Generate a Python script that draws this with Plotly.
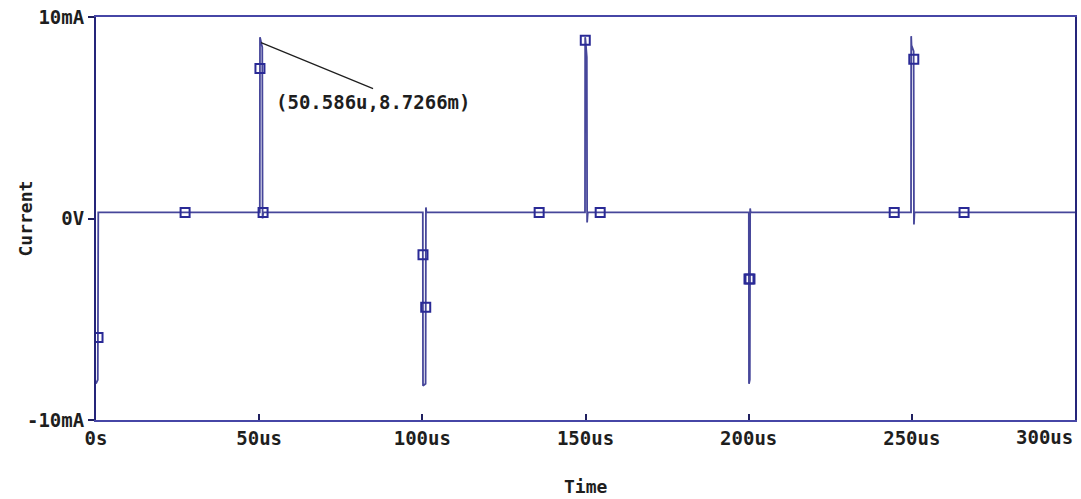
import plotly.graph_objects as go

# Transient current waveform (time in microseconds, current in milliamps)
time_us = [0.0, 0.3, 0.55, 0.7, 0.9,
           50.2, 50.25, 50.586, 50.95, 51.05, 51.25,
           100.15, 100.2, 101.0, 101.1, 101.25,
           149.85, 149.9, 150.0, 150.4, 150.5, 150.7,
           200.05, 200.1, 200.35, 200.45, 200.6,
           249.75, 249.8, 249.9, 250.55, 250.65, 250.8,
           300.0]
current_ma = [-8.2, -8.1, -8.0, 0.3, 0.3,
              0.3, 9.0, 8.7266, 8.5, 0.0, 0.3,
              0.3, -8.3, -8.2, 0.55, 0.3,
              0.3, 9.0, 8.85, 8.0, -0.2, 0.3,
              0.3, -8.2, -8.0, 0.5, 0.3,
              0.3, 9.05, 8.6, 8.3, -0.3, 0.3,
              0.3]

# Trace symbols placed along the waveform
marker_time_us = [0.62, 27.3, 50.24, 51.2, 100.2, 101.04, 135.8, 149.93, 154.5,
                  200.1, 200.4, 244.6, 250.6, 266.0]
marker_current_ma = [-5.9, 0.3, 7.45, 0.3, -1.8, -4.4, 0.3, 8.85, 0.3,
                     -3.0, -3.0, 0.3, 7.9, 0.3]

x_tick_vals = [0, 50, 100, 150, 200, 250, 300]
x_tick_text = ["0s", "50us", "100us", "150us", "200us", "250us", "300us"]
y_tick_vals = [-10, 0, 10]
y_tick_text = ["-10mA", "0V", "10mA"]

cursor_t, cursor_i = 50.586, 8.7266

trace_color = "#46469a"
frame_color = "#4646a6"
text_font = dict(family="DejaVu Sans Mono", size=19, color="#1e1e1e", weight="bold")
title_font = dict(family="DejaVu Sans Mono", size=18, color="#1e1e1e", weight="bold")

fig = go.Figure()
fig.add_trace(go.Scatter(
    x=time_us, y=current_ma, mode="lines",
    line=dict(color=trace_color, width=1.8),
    hoverinfo="skip", showlegend=False,
))
fig.add_trace(go.Scatter(
    x=marker_time_us, y=marker_current_ma, mode="markers",
    marker=dict(symbol="square-open", size=9, color="#2a2a96",
                line=dict(width=2, color="#2a2a96")),
    hoverinfo="skip", showlegend=False,
))

fig.add_annotation(
    x=cursor_t, y=cursor_i, xref="x", yref="y",
    text="(50.586u,8.7266m)",
    showarrow=True, arrowhead=0, arrowwidth=1.2, arrowcolor="#1e1e1e",
    ax=112, ay=46, xanchor="center", yanchor="top",
    font=text_font,
)

# The last x tick label sits flush against the right edge of the page
fig.add_annotation(
    x=x_tick_vals[-1], y=0, xref="x", yref="paper",
    text=x_tick_text[-1], showarrow=False,
    xanchor="right", yanchor="top", yshift=-4,
    font=text_font,
)
x_labels_shown = x_tick_text[:-1] + [""]

# Axis titles
fig.add_annotation(
    x=0, y=0.5, xref="paper", yref="paper", text="Current",
    textangle=-90, showarrow=False, xanchor="center", yanchor="middle",
    xshift=-71, font=title_font,
)
fig.add_annotation(
    x=0.5, y=0, xref="paper", yref="paper", text="Time",
    showarrow=False, xanchor="center", yanchor="middle",
    yshift=-66, font=title_font,
)

fig.update_layout(
    width=1081, height=499,
    margin=dict(l=96, r=6, t=17, b=79),
    paper_bgcolor="white", plot_bgcolor="white",
    font=text_font,
)
fig.update_xaxes(
    range=[0, 300], tickvals=x_tick_vals, ticktext=x_labels_shown,
    showgrid=False, zeroline=False, automargin=False,
    showline=True, mirror=True, linecolor=frame_color, linewidth=2,
    ticks="inside", ticklen=6, tickcolor="#202060", tickwidth=1.5,
    tickfont=text_font,
)
fig.update_yaxes(
    range=[-10, 10], tickvals=y_tick_vals, ticktext=y_tick_text,
    showgrid=False, zeroline=False, automargin=False,
    showline=True, mirror=True, linecolor="#25257a", linewidth=2,
    ticks="outside", ticklen=6, tickcolor="#202060", tickwidth=1.5,
    tickfont=text_font,
)

fig.write_html("out.html")
